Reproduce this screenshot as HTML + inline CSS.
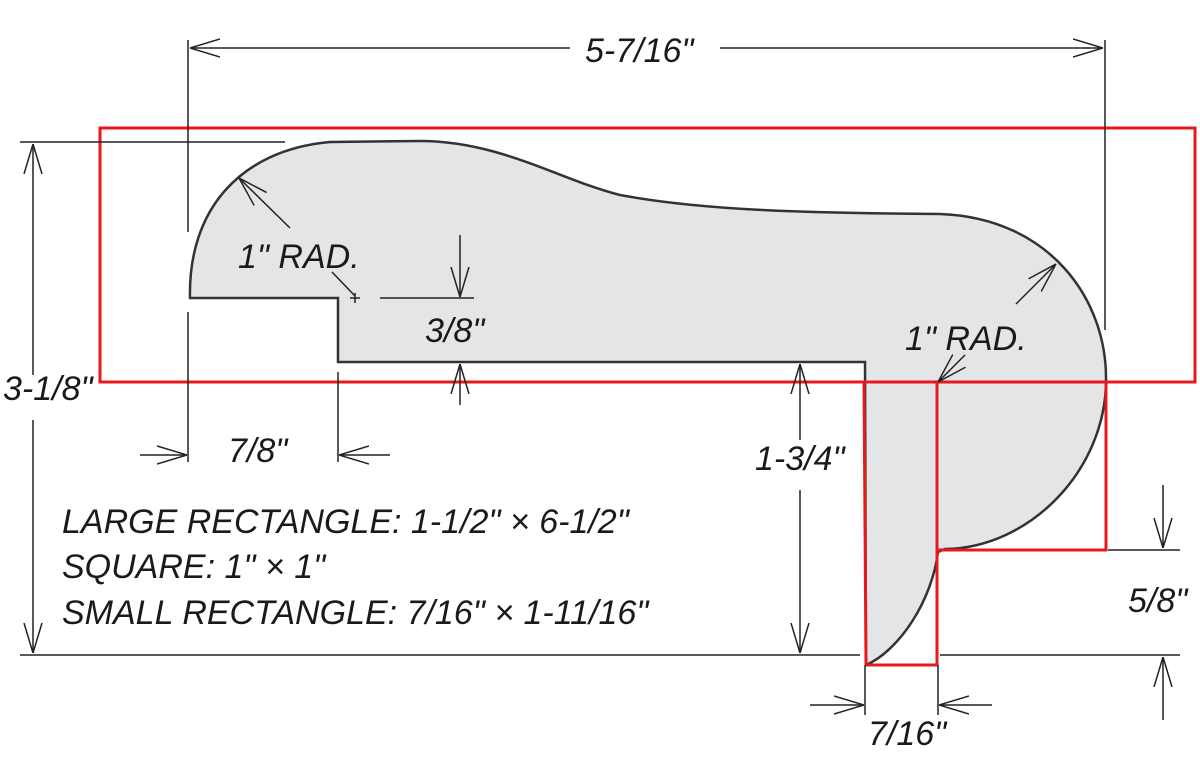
<!DOCTYPE html>
<html><head><meta charset="utf-8"><style>
html,body{margin:0;padding:0;background:#fff}
svg{display:block}
text{font-family:"Liberation Sans",sans-serif;font-style:italic;fill:#1a1a1a;font-weight:normal}
</style></head><body>
<svg width="1200" height="767" viewBox="0 0 1200 767" xmlns="http://www.w3.org/2000/svg">
<defs>
<marker id="a" viewBox="0 0 30 20" refX="30" refY="10" markerWidth="30" markerHeight="20" orient="auto" markerUnits="userSpaceOnUse">
<path d="M0,1 L30,10 L0,19" fill="none" stroke="#222" stroke-width="1.5"/></marker>
</defs>
<path d="M190,298 C188,210 240,150 330,142 L420,141 C500,141 560,180 620,195 C700,210 800,213 940,214 C1050,218 1107,300 1106,380 C1106,470 1030,548 945,549 L938,552 C932,600 900,650 866,665 L865,362 L338,362 L338,298 Z" fill="#e4e5e7" stroke="#333" stroke-width="2.5"/>
<g fill="none" stroke="#e8191c" stroke-width="3">
<rect x="100" y="128" width="1095" height="254"/>
<polyline points="937,382 937,550 1106,550 1106,382"/>
<polyline points="864,382 866,665 937,665 937,382"/>
</g>
<g stroke="#222" stroke-width="1.5" fill="none">
<line x1="188" y1="40" x2="188" y2="232"/><line x1="1105" y1="40" x2="1105" y2="330"/>
<line x1="570" y1="48" x2="190" y2="48" marker-end="url(#a)"/>
<line x1="720" y1="48" x2="1103" y2="48" marker-end="url(#a)"/>
<line x1="20" y1="142" x2="285" y2="142"/><line x1="20" y1="655" x2="860" y2="655"/>
<line x1="33" y1="375" x2="33" y2="144" marker-end="url(#a)"/>
<line x1="33" y1="420" x2="33" y2="653" marker-end="url(#a)"/>
<line x1="188" y1="312" x2="188" y2="462"/><line x1="338" y1="372" x2="338" y2="462"/>
<line x1="140" y1="455" x2="187" y2="455" marker-end="url(#a)"/>
<line x1="390" y1="455" x2="339" y2="455" marker-end="url(#a)"/>
<line x1="380" y1="298" x2="474" y2="298"/>
<line x1="460" y1="235" x2="460" y2="297" marker-end="url(#a)"/>
<line x1="460" y1="405" x2="460" y2="364" marker-end="url(#a)"/>
<line x1="800" y1="440" x2="800" y2="364" marker-end="url(#a)"/>
<line x1="800" y1="490" x2="800" y2="653" marker-end="url(#a)"/>
<line x1="1108" y1="550" x2="1180" y2="550"/><line x1="940" y1="655" x2="1180" y2="655"/>
<line x1="1163" y1="485" x2="1163" y2="548" marker-end="url(#a)"/>
<line x1="1163" y1="720" x2="1163" y2="657" marker-end="url(#a)"/>
<line x1="865" y1="665" x2="865" y2="715"/><line x1="938" y1="665" x2="938" y2="715"/>
<line x1="810" y1="705" x2="864" y2="705" marker-end="url(#a)"/>
<line x1="992" y1="705" x2="939" y2="705" marker-end="url(#a)"/>
<line x1="290" y1="228" x2="239" y2="178" marker-end="url(#a)"/>
<line x1="332" y1="272" x2="355" y2="296"/>
<path d="M350,298 h10 M355,293 v10"/>
<line x1="1016" y1="304" x2="1056" y2="264" marker-end="url(#a)"/>
<line x1="965" y1="355" x2="938" y2="382" marker-end="url(#a)"/>
</g>
<g font-size="34">
<text x="585" y="62">5-7/16"</text>
<text x="3" y="400">3-1/8"</text>
<text x="238" y="268">1" RAD.</text>
<text x="905" y="350">1" RAD.</text>
<text x="425" y="342">3/8"</text>
<text x="228" y="462">7/8"</text>
<text x="755" y="470">1-3/4"</text>
<text x="1128" y="612">5/8"</text>
<text x="868" y="745">7/16"</text>
<text x="62" y="533">LARGE RECTANGLE: 1-1/2" × 6-1/2"</text>
<text x="62" y="578">SQUARE: 1" × 1"</text>
<text x="62" y="624">SMALL RECTANGLE: 7/16" × 1-11/16"</text>
</g>
</svg>
</body></html>
